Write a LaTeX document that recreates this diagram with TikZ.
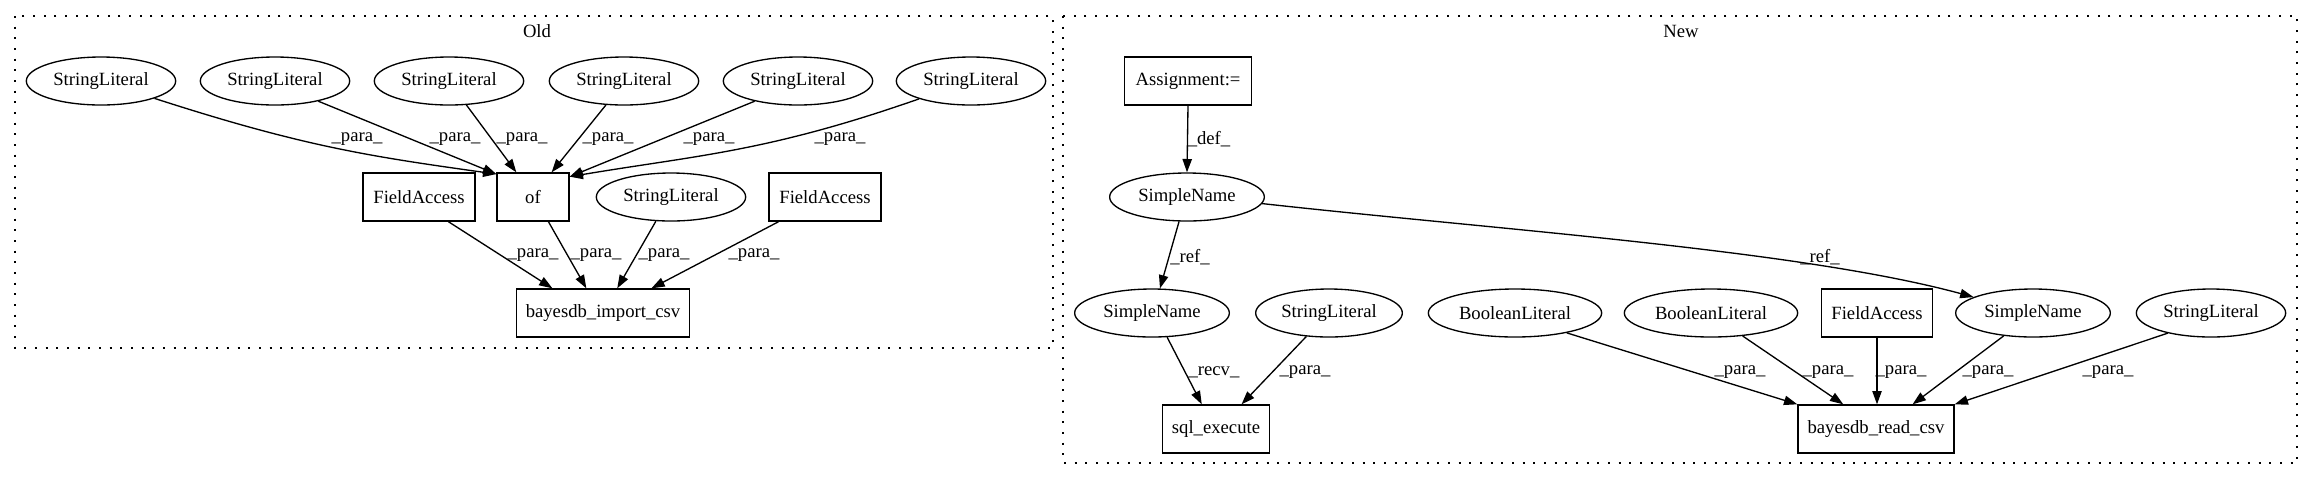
\documentclass[tikz,border=0pt]{standalone}
\usepackage{fontspec}
\setmainfont{Liberation Serif}
\usetikzlibrary{arrows.meta,shapes.geometric}
\begin{document}
\begin{tikzpicture}[x=0.75pt,y=-0.75pt,
  every node/.style={font=\fontsize{14pt}{16pt}\selectfont, inner sep=0pt},
  el/.style={draw, ellipse, line width=1pt, minimum height=36pt},
  bx/.style={draw, rectangle, line width=1pt, minimum height=36pt},
  conn/.style={draw, line width=1pt, -{Triangle[length=10pt,width=7pt]}},
  lbl/.style={},
  clus/.style={draw, line width=1.2pt, dash pattern=on 1.5pt off 6.5pt}]
\useasboundingbox (0,0) rectangle (2303,480);

% clusters
\draw[clus] (15,16) rectangle (1053,348);
\draw[clus] (1063,16) rectangle (2297,463);
\node (tOld) at (537,31) {Old};
\node (tNew) at (1681,31) {New};

% Old nodes
\node[el, minimum width=112pt] (s1) at (101,81) {StringLiteral};
\node[el, minimum width=112pt] (s2) at (275,81) {StringLiteral};
\node[el, minimum width=112pt] (s3) at (449,81) {StringLiteral};
\node[el, minimum width=112pt] (s4) at (624,81) {StringLiteral};
\node[el, minimum width=112pt] (s5) at (798,81) {StringLiteral};
\node[el, minimum width=112pt] (s6) at (971,81) {StringLiteral};
\node[bx, minimum width=84pt] (fa1) at (419,197) {FieldAccess};
\node[bx, minimum width=54pt] (of) at (533,197) {of};
\node[el, minimum width=112pt] (s7) at (671,197) {StringLiteral};
\node[bx, minimum width=84pt] (fa2) at (825,197) {FieldAccess};
\node[bx, minimum width=130pt] (bi) at (603,313) {bayesdb\_import\_csv};

% New nodes
\node[bx, minimum width=95pt] (asg) at (1188,81) {Assignment:=};
\node[el, minimum width=116pt] (sn1) at (1187,197) {SimpleName};
\node[el, minimum width=116pt] (sn2) at (1152,313) {SimpleName};
\node[el, minimum width=110pt] (s8) at (1329,313) {StringLiteral};
\node[el, minimum width=130pt] (bl1) at (1515,313) {BooleanLiteral};
\node[el, minimum width=130pt] (bl2) at (1711,313) {BooleanLiteral};
\node[bx, minimum width=83pt] (fa3) at (1877,313) {FieldAccess};
\node[el, minimum width=116pt] (sn3) at (2033,313) {SimpleName};
\node[el, minimum width=112pt] (s9) at (2211,313) {StringLiteral};
\node[bx, minimum width=80pt] (sql) at (1216,429) {sql\_execute};
\node[bx, minimum width=117pt] (rd) at (1876,429) {bayesdb\_read\_csv};

% Old edges
\draw[conn] (s1.-18) .. controls (302,146) and (367,156) .. (of.148);
\draw[conn] (s2.-25) -- (of.148);
\draw[conn] (s3.-54) -- (of.124);
\draw[conn] (s4.-127) -- (of.53);
\draw[conn] (s5.-155) -- (of.29);
\draw[conn] (s6.-161) .. controls (767,152) and (699,155) .. (of.29);
\draw[conn] (fa1.-40) -- (bi.154);
\draw[conn] (of.-58) -- (bi.124);
\draw[conn] (s7.-122) -- (bi.60);
\draw[conn] (fa2.-152) -- (bi.27);

% Old labels
\node[lbl] (l1) at (357,139) {\_para\_};
\node[lbl] (l2) at (455,139) {\_para\_};
\node[lbl] (l3) at (522,139) {\_para\_};
\node[lbl] (l4) at (608,139) {\_para\_};
\node[lbl] (l5) at (709,139) {\_para\_};
\node[lbl] (l6) at (840,139) {\_para\_};
\node[lbl] (l7) at (533,255) {\_para\_};
\node[lbl] (l8) at (596,255) {\_para\_};
\node[lbl] (l9) at (664,255) {\_para\_};
\node[lbl] (l10) at (754,255) {\_para\_};

% New edges
\draw[conn] (asg.south) -- (sn1.north);
\draw[conn] (sn1.-108) -- (sn2.72);
\draw[conn] (sn1.-5) .. controls (1500,230) and (1800,250) .. (sn3.165);
\draw[conn] (sn2.-58) -- (sql.120);
\draw[conn] (s8.-134) -- (sql.44);
\draw[conn] (bl1.-21) -- (rd.north west);
\draw[conn] (bl2.-36) -- (rd.143);
\draw[conn] (fa3.south) -- (rd.north -| fa3.south);
\draw[conn] (sn3.-142) -- (rd.34);
\draw[conn] (s9.-155) -- (rd.north east);

% New labels
\node[lbl] (m1) at (1209,139) {\_def\_};
\node[lbl] (m2) at (1190,257) {\_ref\_};
\node[lbl] (m3) at (1820,257) {\_ref\_};
\node[lbl] (m4) at (1214,372) {\_recv\_};
\node[lbl] (m5) at (1305,372) {\_para\_};
\node[lbl] (m6) at (1740,372) {\_para\_};
\node[lbl] (m7) at (1828,372) {\_para\_};
\node[lbl] (m8) at (1901,372) {\_para\_};
\node[lbl] (m9) at (1988,372) {\_para\_};
\node[lbl] (m10) at (2108,372) {\_para\_};
\end{tikzpicture}
\end{document}
